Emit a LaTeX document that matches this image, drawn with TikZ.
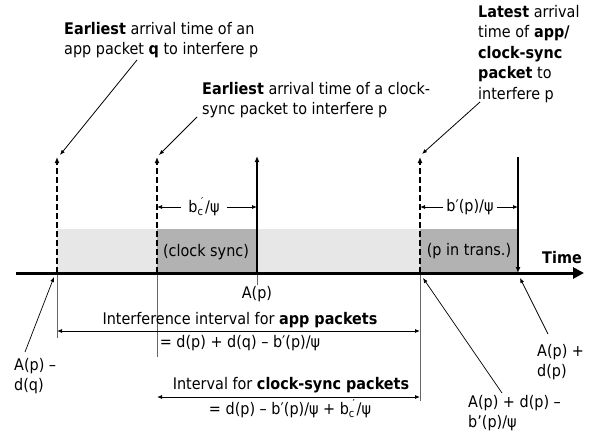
\documentclass[tikz,border=0pt]{standalone}
\usepackage{fontspec}
\setmainfont{DejaVu Sans}[FakeStretch=0.9]
\usetikzlibrary{arrows.meta}
\definecolor{lightfill}{RGB}{231,231,231}
\definecolor{darkfill}{RGB}{178,178,178}
\newcommand{\bcprime}{b\rlap{\raisebox{-0.35ex}{\fontsize{11}{11}\selectfont c}}\kern0.22em\raisebox{0.8ex}{\fontsize{11}{11}\selectfont ′}\kern0.12em/ψ}
\begin{document}
\begin{tikzpicture}[x=1pt,y=-1pt,
  font=\fontsize{16}{20.5}\selectfont,
  lbl/.style={inner sep=0pt, align=left},
  clbl/.style={inner sep=0pt, align=center},
  dashvert/.style={line width=2pt, dash pattern=on 6pt off 3pt, -{Latex[length=6pt,width=5pt]}},
  solidvert/.style={line width=2.5pt, -{Latex[length=6pt,width=5pt]}},
  thinvert/.style={line width=0.6pt, gray!80!black},
  note/.style={line width=0.8pt, -{Latex[length=5pt,width=4pt]}},
  dim/.style={line width=0.8pt, -{Latex[length=5pt,width=4pt]}},
  span/.style={line width=0.8pt, {Latex[length=5pt,width=4pt]}-{Latex[length=5pt,width=4pt]}},
  dimtxt/.style={inner sep=0pt}]
\useasboundingbox (0,0) rectangle (599,436);

% shaded regions
\fill[lightfill] (57,229) rectangle (420,273);
\fill[darkfill] (157,229) rectangle (257,273);
\fill[darkfill] (420,229) rectangle (518,273);

% axis points
\coordinate (a1) at (57,273);
\coordinate (a2) at (157,273);
\coordinate (a3) at (257,273);
\coordinate (a4) at (420,273);
\coordinate (a5) at (518,273);
\coordinate (t1) at (57,157);
\coordinate (t2) at (157,157);
\coordinate (t3) at (257,156);
\coordinate (t4) at (420,157);
\coordinate (t5) at (518,157);

% thin lines below the axis
\coordinate (b1) at (57,338);
\coordinate (b2) at (157,357);
\coordinate (b3) at (257,285);
\coordinate (b4) at (420,401);
\draw[thinvert] (a1) -- (b1);
\draw[thinvert] (a2) -- (b2);
\draw[thinvert] (a3) -- (b3);
\draw[thinvert] (a4) -- (b4);

% verticals
\draw[dashvert] (a1) -- (t1);
\draw[dashvert] (a2) -- (t2);
\draw[dashvert] (a4) -- (t4);
\draw[solidvert] (a3) -- (t3);
\draw[line width=1.6pt, -{Latex[length=6pt,width=5pt]}] (t5) -- (a5);

% time axis
\coordinate (ax0) at (16,273);
\coordinate (ax1) at (584,273);
\draw[line width=3pt, -{Triangle[length=11pt,width=11pt]}] (ax0) -- (ax1);
\node[dimtxt, font=\fontsize{16}{20.5}\selectfont\bfseries] (time) at (562,258) {Time};

% box labels
\node[dimtxt] (cs) at (206,252) {(clock sync)};
\node[dimtxt] (pt) at (469,251) {(p in trans.)};

% dimension arrows
\node[dimtxt, inner xsep=7pt] (bc) at (204,207) {\bcprime};
\draw[dim] (bc.west) -- (157,207);
\draw[dim] (bc.east) -- (257,207);
\node[dimtxt, inner xsep=3pt] (bp) at (470,207) {b′(p)/ψ};
\draw[dim] (bp.west) -- (420,207);
\draw[dim] (bp.east) -- (518,207);

% A(p)
\node[dimtxt] (ap) at (257,294) {A(p)};

% top labels
\node[lbl, anchor=west] (l1) at (64,40) {\textbf{Earliest} arrival time of an\\app packet \textbf{q} to interfere p};
\node[lbl, anchor=west] (l2) at (202,100) {\textbf{Earliest} arrival time of a clock-\\sync packet to interfere p};
\node[lbl, anchor=west] (l3) at (478,54) {\textbf{Latest} arrival\\time of \textbf{app/}\\\textbf{clock-sync}\\\textbf{packet} to\\interfere p};
\coordinate (s1) at (137,60);
\coordinate (e1) at (60,155);
\coordinate (s2) at (197,117);
\coordinate (e2) at (159,155);
\coordinate (s3) at (480,102);
\coordinate (e3) at (422,154);
\draw[note] (s1) -- (e1);
\draw[note] (s2) -- (e2);
\draw[note] (s3) -- (e3);

% bottom labels
\node[lbl, anchor=west] (l4) at (14,376) {A(p) –\\d(q)};
\node[lbl, anchor=west] (l5) at (537,362) {A(p) +\\d(p)};
\node[lbl, anchor=west] (l6) at (468,413) {A(p) + d(p) –\\b'(p)/ψ};
\coordinate (s4) at (25,352);
\coordinate (e4) at (54,277);
\coordinate (s5) at (548,334);
\coordinate (e5) at (520,278);
\coordinate (s6) at (502,393);
\coordinate (e6) at (423,278);
\draw[line width=0.7pt, -{Latex[length=5pt,width=4pt]}] (s4) -- (e4);
\draw[line width=0.7pt, -{Latex[length=5pt,width=4pt]}] (s5) -- (e5);
\draw[line width=0.7pt, -{Latex[length=5pt,width=4pt]}] (s6) -- (e6);

% intervals
\node[clbl] (i1) at (240,320) {Interference interval for \textbf{app packets}};
\coordinate (i1l) at (57,331);
\coordinate (i1r) at (420,331);
\draw[span] (i1l) -- (i1r);
\node[clbl] (f1) at (240,343) {= d(p) + d(q) – b′(p)/ψ};
\node[clbl] (i2) at (291,385) {Interval for \textbf{clock-sync packets}};
\coordinate (i2l) at (157,397);
\coordinate (i2r) at (420,397);
\draw[span] (i2l) -- (i2r);
\node[clbl] (f2) at (290,409) {= d(p) – b′(p)/ψ + \bcprime};
\end{tikzpicture}
\end{document}
